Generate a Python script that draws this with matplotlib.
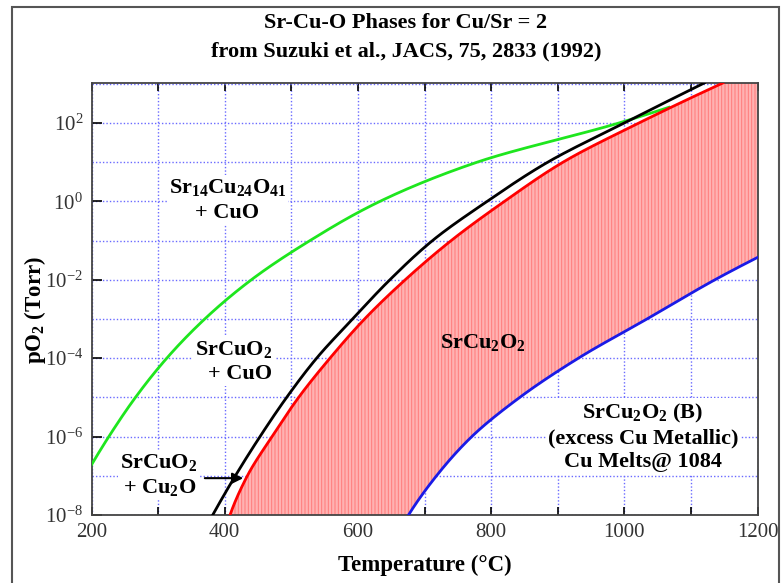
import numpy as np
import matplotlib
matplotlib.use("Agg")
import matplotlib.pyplot as plt
from matplotlib.patches import Rectangle
from matplotlib.ticker import FixedLocator, FuncFormatter, NullFormatter

plt.rcParams['font.family'] = ['Liberation Serif', 'DejaVu Serif']
plt.rcParams['mathtext.fontset'] = 'custom'
plt.rcParams['mathtext.rm'] = 'Liberation Serif'
plt.rcParams['mathtext.bf'] = 'Liberation Serif:bold'
plt.rcParams['mathtext.it'] = 'Liberation Serif:italic'
plt.rcParams['hatch.linewidth'] = 0.7
plt.rcParams['axes.unicode_minus'] = False

# ---- data (temperature in C, log10 pO2 in Torr) ----
green_T = [200, 226, 266, 313, 370, 440, 528, 633, 779, 992, 1067]
green_logp = [-6.72, -6, -5, -4, -3, -2, -1, 0, 1, 2, 2.40]

black_T = [382, 416, 453, 493, 538, 592, 648, 712, 794, 885, 1000, 1120]
black_logp = [-8, -7, -6, -5, -4, -3, -2, -1, 0, 1, 2, 3.02]

red_T = [408, 434, 471, 511, 558, 610, 671, 740, 820, 908, 1022, 1148]
red_logp = [-8, -7, -6, -5, -4, -3, -2, -1, 0, 1, 2, 3.02]

blue_T = [676, 718, 771, 843, 931, 1034, 1136, 1200]
blue_logp = [-8, -7, -6, -5, -4, -3, -2, -1.43]

x_ticks = [200, 300, 400, 500, 600, 700, 800, 900, 1000, 1100, 1200]
x_labels = ['200', '', '400', '', '600', '', '800', '', '1000', '', '1200']
y_major = [-8, -6, -4, -2, 0, 2]
y_minor = [-7, -5, -3, -1, 1, 3]


def smooth(T, L, n=400):
    """Monotone cubic (Fritsch-Carlson) of T as a function of log p, through the read points."""
    x = np.asarray(L, float)
    y = np.asarray(T, float)
    h = np.diff(x)
    d = np.diff(y) / h
    m = np.zeros_like(x)

    def end(h0, h1, d0, d1):
        s = ((2 * h0 + h1) * d0 - h0 * d1) / (h0 + h1)
        if s * d0 <= 0:
            return 0.0
        if d0 * d1 <= 0 and abs(s) > 3 * abs(d0):
            return 3 * d0
        return s

    m[0] = end(h[0], h[1], d[0], d[1])
    m[-1] = end(h[-1], h[-2], d[-1], d[-2])
    for i in range(1, len(x) - 1):
        if d[i - 1] * d[i] > 0:
            w1 = 2 * h[i] + h[i - 1]
            w2 = h[i] + 2 * h[i - 1]
            m[i] = (w1 + w2) / (w1 / d[i - 1] + w2 / d[i])
    xs = np.linspace(x[0], x[-1], n)
    idx = np.clip(np.searchsorted(x, xs) - 1, 0, len(x) - 2)
    t = (xs - x[idx]) / h[idx]
    h00 = 2 * t ** 3 - 3 * t ** 2 + 1
    h10 = t ** 3 - 2 * t ** 2 + t
    h01 = -2 * t ** 3 + 3 * t ** 2
    h11 = t ** 3 - t ** 2
    ys = h00 * y[idx] + h10 * h[idx] * m[idx] + h01 * y[idx + 1] + h11 * h[idx] * m[idx + 1]
    return ys, xs


fig = plt.figure(figsize=(7.82, 5.83), dpi=100)
ax = fig.add_axes([91.5 / 782, 1 - 515 / 583, 666 / 782, 432 / 583])

# frame around figure
fig.add_artist(Rectangle((12 / 782, -0.05), (779 - 12) / 782, 1.05 - 7 / 583,
                         transform=fig.transFigure, fill=False, edgecolor='#555555', lw=1.5))

gT, gL = smooth(green_T, green_logp)
kT, kL = smooth(black_T, black_logp)
rT, rL = smooth(red_T, red_logp)
bT, bL = smooth(blue_T, blue_logp)

# fill between red and blue curves
Tf = np.linspace(red_T[0], 1200, 800)
upper = np.interp(Tf, rT, rL, right=3.2)
lower = np.interp(Tf, bT, bL, left=-8.5)
ax.fill_between(Tf, 10 ** lower, 10 ** upper, facecolor='#ffb2b2', edgecolor='#ff7a7a',
                hatch='|||||', lw=0, zorder=1)

ax.plot(gT, 10 ** gL, color='#1ee61e', lw=2.0, zorder=3)
ax.plot(kT, 10 ** kL, color='black', lw=2.0, zorder=3)
ax.plot(rT, 10 ** rL, color='#ff0000', lw=2.0, zorder=3)
ax.plot(bT, 10 ** bL, color='#1a1ae6', lw=2.0, zorder=3)

ax.set_yscale('log')
ax.set_xlim(200, 1200)
ax.set_ylim(1e-8, 10 ** 3.02)

ax.xaxis.set_major_locator(FixedLocator(x_ticks))
ax.set_xticklabels(x_labels)
ax.yaxis.set_major_locator(FixedLocator([10.0 ** v for v in y_major]))
ax.yaxis.set_minor_locator(FixedLocator([10.0 ** v for v in y_minor]))
ax.yaxis.set_major_formatter(FuncFormatter(lambda v, p: r'$10^{%d}$' % round(np.log10(v))))
ax.yaxis.set_minor_formatter(NullFormatter())

ax.tick_params(axis='both', which='major', direction='in', length=7, width=1.2,
               labelsize=15, labelcolor='#333333', top=True, pad=6)
ax.tick_params(axis='y', which='minor', length=0)
ax.tick_params(axis='x', which='major', length=6)

ax.grid(True, which='both', color='#6a6aff', linestyle=(0, (1, 1.5)), lw=1.0, zorder=0)
ax.set_axisbelow(True)
for s in ax.spines.values():
    s.set_color('#444444')
    s.set_linewidth(1.3)

ax.set_xlabel('Temperature (°C)', fontsize=16.5, fontweight='bold', labelpad=9)
ax.set_ylabel(r'pO$_\mathbf{2}$ (Torr)', fontsize=16.5, fontweight='bold')
ax.yaxis.set_label_coords(-(91.5 - 48) / 666, (515 - 310) / 432)

fig.text(406 / 782, 1 - 23 / 583, 'Sr-Cu-O Phases for Cu/Sr = 2', ha='center', va='center',
         fontsize=16, fontweight='bold')
fig.text(406 / 782, 1 - 51 / 583, 'from Suzuki et al., JACS, 75, 2833 (1992)', ha='center',
         va='center', fontsize=16, fontweight='bold')

box = dict(facecolor='white', edgecolor='none', pad=1.5)
fs = 16
ax.text(404, 10 ** 0.03, 'Sr$_\\mathbf{14}$Cu$_\\mathbf{24}$O$_\\mathbf{41}$\n+ CuO', ha='center',
        va='center', fontsize=fs, fontweight='bold', bbox=box, zorder=4, linespacing=1.3)
ax.text(414, 10 ** -4.08, 'SrCuO$_\\mathbf{2}$\n+ CuO', ha='center', va='center',
        multialignment='right', fontsize=fs, fontweight='bold', bbox=box, zorder=4, linespacing=1.3)
ax.text(300, 10 ** -6.98, 'SrCuO$_\\mathbf{2}$\n+ Cu$_\\mathbf{2}$O', ha='center', va='center',
        multialignment='right', fontsize=fs, fontweight='bold', bbox=box, zorder=4, linespacing=1.3)
ax.annotate('', xy=(432, 10 ** -7.06), xytext=(366, 10 ** -7.06),
            arrowprops=dict(arrowstyle='-|>', color='black', lw=1.5, mutation_scale=16), zorder=5)
ax.text(788, 10 ** -3.59, 'SrCu$_\\mathbf{2}$O$_\\mathbf{2}$', ha='center', va='center',
        fontsize=fs, fontweight='bold', zorder=4)
ax.text(1028, 10 ** -6.01, 'SrCu$_\\mathbf{2}$O$_\\mathbf{2}$ (B)\n(excess Cu Metallic)\nCu Melts@ 1084',
        ha='center', va='center', fontsize=fs, fontweight='bold', bbox=box, zorder=4,
        linespacing=1.25)

fig.savefig('out.png', dpi=100)
